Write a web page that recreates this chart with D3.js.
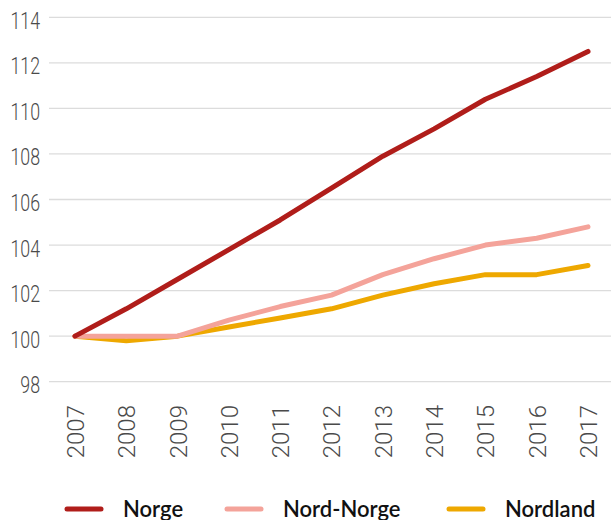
<!DOCTYPE html>
<html>
<head>
<meta charset="utf-8">
<script src="https://cdn.jsdelivr.net/npm/d3@7"></script>
<style>
  body { margin: 0; background: #fff; }
  svg { display: block; }
</style>
</head>
<body>
<div id="chart"></div>
<script>
var years = [2007, 2008, 2009, 2010, 2011, 2012, 2013, 2014, 2015, 2016, 2017];
var norge = [100, 101.2, 102.5, 103.8, 105.1, 106.5, 107.9, 109.1, 110.4, 111.4, 112.5];
var nordNorge = [100, 100, 100, 100.7, 101.3, 101.8, 102.7, 103.4, 104.0, 104.3, 104.8];
var nordland = [100, 99.8, 100, 100.4, 100.8, 101.2, 101.8, 102.3, 102.7, 102.7, 103.1];
var yTicks = [98, 100, 102, 104, 106, 108, 110, 112, 114];

var series = [
  { name: "Nordland", values: nordland, color: "#eea800" },
  { name: "Nord-Norge", values: nordNorge, color: "#f4a39a" },
  { name: "Norge", values: norge, color: "#b01d1a" }
];
var legendOrder = ["Norge", "Nord-Norge", "Nordland"];

var wdth = 611, hght = 520;
var svg = d3.select("#chart")
  .append("svg")
  .attr("width", wdth)
  .attr("height", hght);

var x = d3.scalePoint()
  .domain(years)
  .range([75, 588]);

var y = d3.scaleLinear()
  .domain([98, 114])
  .range([381.7, 17.3]);

// grid lines
svg.append("g")
  .selectAll("line")
  .data(yTicks)
  .enter()
  .append("line")
  .attr("x1", 49)
  .attr("x2", wdth)
  .attr("y1", function(d){ return y(d) })
  .attr("y2", function(d){ return y(d) })
  .attr("stroke", "#dcdcdc")
  .attr("stroke-width", 1.3);

// y axis labels (narrow, tall digits)
var yAxis = svg.append("g")
  .attr("transform", "translate(40,0)")
  .call(d3.axisLeft(y).tickValues(yTicks).tickSize(0).tickPadding(0));
yAxis.select(".domain").remove();
yAxis.selectAll("text")
  .attr("font-family", "Roboto")
  .attr("font-weight", 300)
  .attr("font-size", 23.4)
  .attr("fill", "#4a4a4a")
  .attr("x", 0)
  .attr("dy", 11)
  .attr("transform", "scale(0.76,1)");

// x axis labels
var xAxis = svg.append("g")
  .attr("transform", "translate(0,405)")
  .call(d3.axisBottom(x).tickSize(0).tickPadding(0).tickFormat(d3.format("d")));
xAxis.select(".domain").remove();
xAxis.selectAll("text")
  .attr("font-family", "Roboto")
  .attr("font-weight", 300)
  .attr("font-size", 24)
  .attr("fill", "#4a4a4a")
  .attr("text-anchor", "end")
  .attr("dy", "0.35em")
  .attr("transform", "rotate(-90)")
  .attr("x", 0)
  .attr("y", 0);

// lines
var line = d3.line()
  .x(function(d, i){ return x(years[i]) })
  .y(function(d){ return y(d) });

svg.append("g")
  .selectAll("path")
  .data(series)
  .enter()
  .append("path")
  .attr("fill", "none")
  .attr("stroke", function(d){ return d.color })
  .attr("stroke-width", 5)
  .attr("stroke-linecap", "round")
  .attr("stroke-linejoin", "round")
  .attr("d", function(d){ return line(d.values) });

// legend
var legendX = [65, 225, 447];
var legend = svg.append("g")
  .selectAll("g")
  .data(legendOrder)
  .enter()
  .append("g")
  .attr("transform", function(d, i){ return "translate(" + legendX[i] + ",509)" });

legend.append("line")
  .attr("x1", 2)
  .attr("x2", 36)
  .attr("y1", 0)
  .attr("y2", 0)
  .attr("stroke", function(d){ return series.find(function(s){ return s.name == d }).color })
  .attr("stroke-width", 5)
  .attr("stroke-linecap", "round");

legend.append("text")
  .attr("x", 58)
  .attr("y", 7.5)
  .attr("font-family", "Lato")
  .attr("font-weight", 600)
  .attr("font-size", 22)
  .attr("fill", "#111")
  .text(function(d){ return d });
</script>
</body>
</html>
